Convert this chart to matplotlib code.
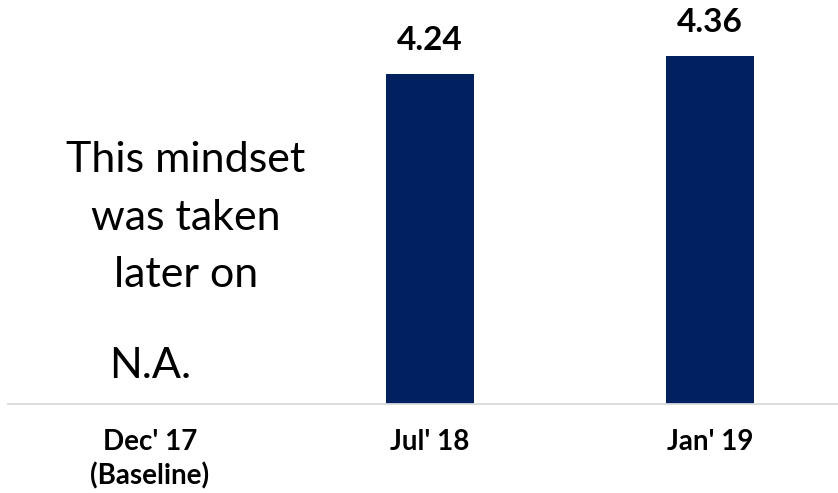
import matplotlib
matplotlib.use("Agg")
import matplotlib.pyplot as plt
import numpy as np

categories = ["Dec' 17\n(Baseline)", "Jul' 18", "Jan' 19"]
values = [None, 4.24, 4.36]
value_labels = ["", "4.24", "4.36"]
note_lines = ["This mindset", "was taken", "later on"]
na_text = "N.A."

BAR_COLOR = "#002060"
FONT = ["Lato", "DejaVu Sans"]

fig = plt.figure(figsize=(8.38, 4.93), dpi=100)
W, H = 838, 493
ax_left, ax_right, ax_top, ax_bottom = 8, 838, 0, 404
ax = fig.add_axes([ax_left / W, (H - ax_bottom) / H, (ax_right - ax_left) / W, (ax_bottom - ax_top) / H])

x = np.arange(len(categories))
bx = [xi for xi, v in zip(x, values) if v is not None]
bv = [v for v in values if v is not None]
bars = ax.bar(bx, bv, width=0.314, color=BAR_COLOR, bottom=0)

ax.set_xlim(-0.507, 2.457)
ax.set_ylim(2.04, 4.733)

for xi, v, lab in zip(x, values, value_labels):
    if v is None:
        continue
    ax.annotate(lab, (xi, v), xytext=(0, 14), textcoords="offset points",
                ha="center", va="bottom", fontsize=24, fontweight="bold",
                family=FONT, color="black")

# note text for missing baseline
note_x = 0.129
for i, line in enumerate(note_lines):
    ybase = 172 + 57.5 * i
    ax.text(note_x, 1 - ybase / 404, line, transform=ax.get_xaxis_transform(),
            ha="center", va="baseline", fontsize=31, family=FONT, color="black")
ax.text(0, 1 - 378 / 404, na_text, transform=ax.get_xaxis_transform(),
        ha="center", va="baseline", fontsize=31, family=FONT, color="black")

ax.set_xticks(x)
ax.set_xticklabels(categories, fontsize=20, fontweight="bold", family=FONT, linespacing=1.35)
ax.tick_params(axis="x", length=0, pad=18)
ax.set_yticks([])
for s in ["left", "right", "top"]:
    ax.spines[s].set_visible(False)
ax.spines["bottom"].set_color("#d9d9d9")
ax.spines["bottom"].set_linewidth(1.3)

fig.savefig("out.png", dpi=100)
